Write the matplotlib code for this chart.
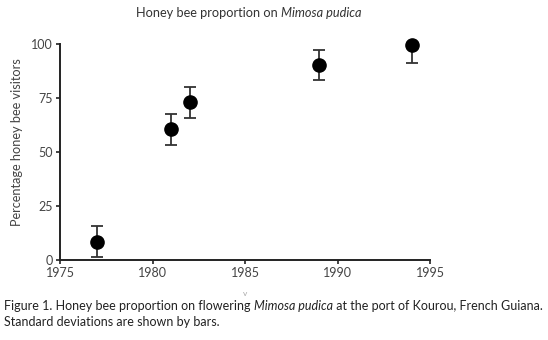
import matplotlib
matplotlib.use("Agg")
import matplotlib.pyplot as plt

# data
years = [1977, 1981, 1982, 1989, 1994]
pct = [8.5, 60.5, 73.0, 90.5, 99.5]
sd_low = [7.2, 7.3, 7.2, 7.0, 8.2]
sd_high = [7.2, 7.0, 7.0, 6.5, 0.0]
xticks = [1975, 1980, 1985, 1990, 1995]
yticks = [0, 25, 50, 75, 100]

plt.rcParams["font.family"] = ["Lato", "DejaVu Sans"]

fig = plt.figure(figsize=(5.48, 3.40), dpi=100)
ax = fig.add_axes([60 / 548, 80 / 340, 370 / 548, 216 / 340])

ax.errorbar(years, pct, yerr=[sd_low, sd_high], fmt="none", ecolor="#333333",
            elinewidth=1.3, capsize=4, capthick=1.3, clip_on=False, zorder=2)
ax.plot(years, pct, "o", color="black", markersize=9.5, clip_on=False, zorder=3)

ax.set_xlim(1975, 1995)
ax.set_ylim(0, 100)
ax.set_xticks(xticks)
ax.set_yticks(yticks)
for s in ["top", "right"]:
    ax.spines[s].set_visible(False)
for s in ["left", "bottom"]:
    ax.spines[s].set_linewidth(1.4)
    ax.spines[s].set_color("#222222")
ax.tick_params(length=3, width=1.2, color="#222222", labelsize=9,
               labelcolor="#444444", pad=2)
ax.set_ylabel("Percentage honey bee visitors", fontsize=9.2, color="#444444")
ax.yaxis.set_label_coords(-0.10, 0.545)


def runs(parts, x, y, size, color="#333333", ha_center=False):
    # draw text pieces one after another, some in italic
    fig.canvas.draw()
    r = fig.canvas.get_renderer()
    objs = []
    cx = x
    for txt, style in parts:
        t = fig.text(cx, y, txt, fontsize=size, style=style, color=color,
                     va="baseline")
        bb = t.get_window_extent(renderer=r)
        cx += bb.width / fig.bbox.width
        objs.append(t)
    if ha_center:
        w = cx - x
        for t in objs:
            px, py = t.get_position()
            t.set_position((px - w / 2, py))


runs([("Honey bee proportion on ", "normal"), ("Mimosa pudica", "italic")],
     249 / 548, 1 - 17 / 340, 9.2, ha_center=True)
runs([("Figure 1. Honey bee proportion on flowering ", "normal"),
      ("Mimosa pudica", "italic"),
      (" at the port of Kourou, French Guiana.", "normal")],
     4 / 548, 1 - 310 / 340, 9.0, color="#222222")
runs([("Standard deviations are shown by bars.", "normal")],
     4 / 548, 1 - 326 / 340, 9.0, color="#222222")
fig.text(245 / 548, 1 - 296 / 340, "v", fontsize=6, color="#aaaaaa", ha="center")

fig.savefig("out.png", dpi=100)
